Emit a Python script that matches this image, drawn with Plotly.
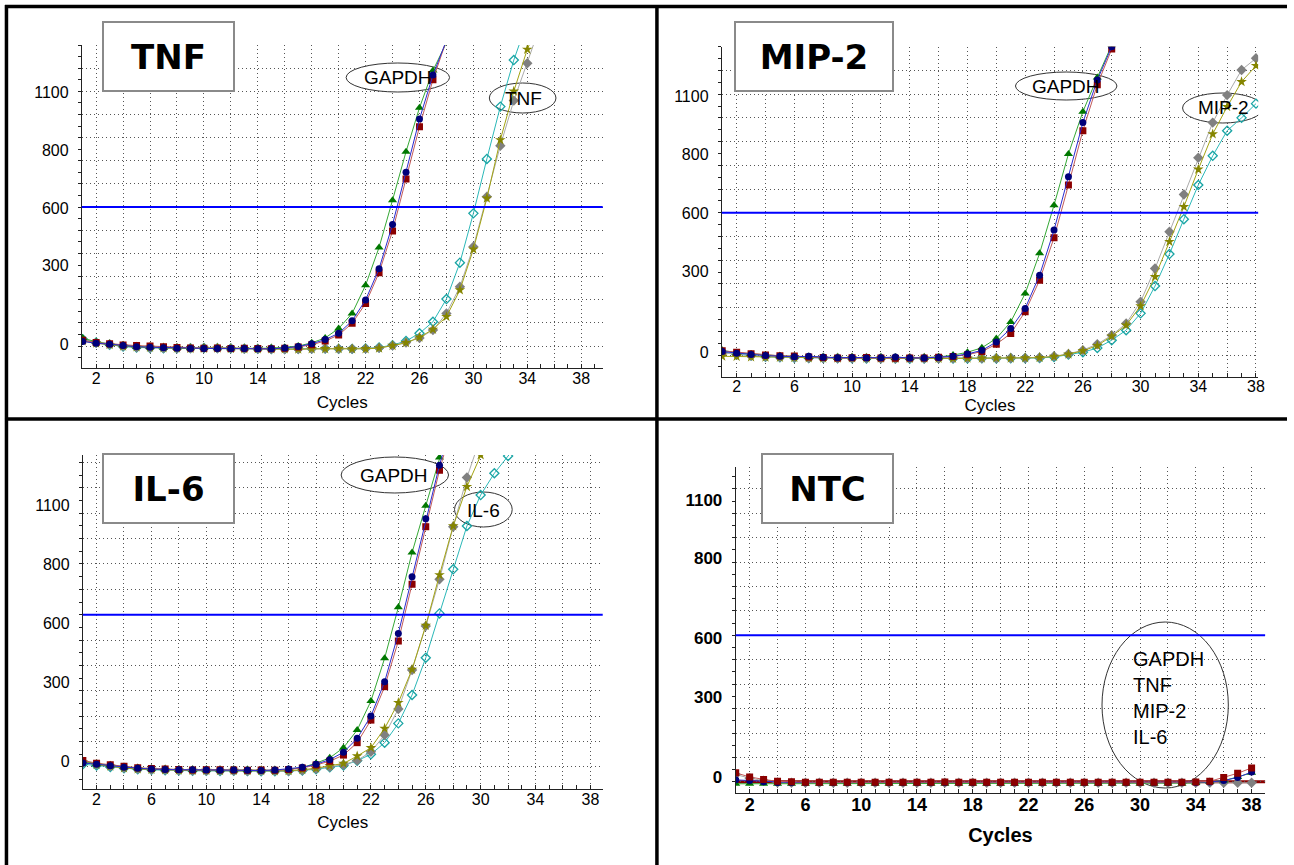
import plotly.graph_objects as go

W, H = 1294, 865

# ---------------- data ----------------
CYCLES = list(range(1, 40))
X_GRID_CYCLES = [2, 4, 6, 8, 10, 12, 14, 16, 18, 20, 22, 24, 26, 28, 30, 32, 34, 36, 38]
X_TICK_TEXT = ["2", "", "6", "", "10", "", "14", "", "18", "", "22", "", "26", "", "30", "", "34", "", "38"]
Y_TICK_TEXT = ["0", "300", "600", "800", "1100"]
THRESHOLD = 600

# TNF panel
TNF_GAPDH_GREEN = [35, 18, 10, 4, -2, -4, -6, -8, -9, -8, -9, -10, -11, -10, -9, -6, 0, 14, 35, 76, 141, 263, 426, 630, 839, 1029, 1190, 1310, 1420]
TNF_GAPDH_NAVY = [20, 12, 8, 2, -3, -5, -7, -9, -10, -10, -11, -10, -11, -12, -12, -8, -2, 10, 28, 55, 109, 199, 334, 525, 750, 980, 1170, 1320, 1440]
TNF_GAPDH_RED = [25, 15, 10, 5, 2, 0, -3, -6, -8, -9, -8, -10, -9, -11, -12, -9, -4, 6, 22, 48, 98, 184, 317, 497, 721, 947, 1150, 1320, 1440]
TNF_TARGET_CYAN = [30, 15, 6, -2, -6, -8, -10, -10, -9, -8, -9, -10, -11, -12, -13, -13, -12, -11, -11, -12, -12, -10, -6, 4, 22, 55, 105, 203, 360, 573, 808, 1034, 1235, 1400]
TNF_TARGET_GREY = [28, 14, 8, 0, -5, -7, -9, -10, -10, -9, -10, -10, -12, -12, -13, -14, -13, -12, -11, -12, -12, -11, -8, 2, 15, 35, 69, 141, 256, 429, 645, 865, 1060, 1221, 1390]
TNF_TARGET_OLIVE = [22, 12, 6, -1, -4, -6, -8, -9, -11, -10, -9, -11, -12, -13, -12, -13, -14, -12, -12, -11, -13, -12, -9, 2, 14, 38, 72, 127, 242, 418, 638, 890, 1100, 1281, 1420]
TNF_TICK_POS = [9, 347, 595, 847, 1094]

# MIP-2 panel
MIP_GAPDH_GREEN = [20, 10, 5, 0, -3, -5, -8, -10, -11, -10, -11, -12, -12, -12, -10, -8, 0, 12, 31, 70, 140, 260, 429, 632, 848, 1026, 1170, 1307, 1420]
MIP_GAPDH_NAVY = [15, 8, 3, -2, -5, -7, -5, -9, -11, -10, -12, -11, -8, -12, -12, -10, -5, 5, 20, 55, 112, 197, 337, 527, 752, 980, 1160, 1300, 1420]
MIP_GAPDH_RED = [18, 12, 6, 0, -3, -4, -8, -10, -12, -11, -10, -12, -13, -12, -12, -9, -6, 2, 15, 46, 91, 183, 316, 495, 717, 946, 1140, 1290, 1410]
MIP_TARGET_CYAN = [12, 4, -2, -7, -9, -11, -12, -12, -13, -13, -14, -13, -14, -15, -14, -13, -14, -14, -13, -14, -13, -13, -12, -8, 2, 12, 30, 63, 105, 176, 291, 426, 573, 717, 840, 946, 1000, 1060]
MIP_TARGET_GREY = [10, 2, -3, -6, -8, -10, -12, -12, -13, -12, -13, -14, -14, -13, -14, -14, -13, -12, -13, -13, -12, -12, -10, -5, 5, 21, 46, 84, 133, 225, 365, 520, 677, 832, 980, 1096, 1202, 1251]
MIP_TARGET_OLIVE = [-5, -6, -8, -9, -10, -11, -12, -13, -13, -12, -13, -13, -14, -14, -13, -14, -14, -13, -13, -12, -13, -12, -11, -6, 4, 18, 40, 80, 126, 207, 330, 478, 625, 783, 932, 1047, 1152, 1220]
MIP_TICK_POS = [10, 351, 597, 846, 1092]

# IL-6 panel
IL6_GAPDH_GREEN = [22, 12, 6, 0, -5, -8, -10, -12, -13, -12, -13, -14, -13, -14, -14, -10, -3, 14, 35, 75, 145, 259, 428, 629, 845, 1030, 1220, 1400]
IL6_GAPDH_NAVY = [15, 10, 4, -2, -6, -9, -11, -12, -12, -13, -14, -13, -14, -15, -13, -9, -2, 10, 28, 57, 112, 200, 335, 526, 750, 978, 1190, 1380]
IL6_GAPDH_RED = [25, 14, 8, 2, -4, -7, -9, -11, -13, -12, -12, -13, -14, -13, -14, -11, -5, 7, 22, 46, 95, 184, 316, 496, 720, 947, 1170, 1360]
IL6_TARGET_CYAN = [10, 5, -1, -6, -10, -12, -14, -15, -16, -16, -17, -16, -17, -18, -18, -17, -15, -10, -2, 5, 24, 49, 95, 171, 283, 430, 605, 779, 950, 1072, 1158, 1226, 1300]
IL6_TARGET_GREY = [20, 10, 3, -4, -8, -11, -12, -14, -15, -16, -15, -16, -17, -16, -16, -17, -14, -8, 0, 8, 25, 59, 125, 228, 382, 555, 740, 947, 1141, 1300]
IL6_TARGET_OLIVE = [18, 8, 2, -5, -9, -11, -13, -14, -15, -15, -16, -15, -16, -16, -17, -16, -12, -6, 4, 13, 42, 75, 151, 253, 384, 557, 757, 950, 1105, 1230, 1350]
IL6_TICK_POS = [20, 333, 566, 799, 1033]

# NTC panel
NTC_GREEN = [-8, -8, -8, -8, -8, -8, -8, -8, -8, -8, -8, -8, -8, -8, -8, -8, -8, -8, -8, -8, -8, -8, -8, -8, -8, -8, -8, -8, -8, -8, -8, -8, -8, -5, 0, 5, 20, 37]
NTC_NAVY = [8, 5, 0, -3, -3, -3, -3, -3, -3, -3, -3, -3, -3, -3, -3, -3, -3, -3, -3, -3, -3, -3, -3, -3, -3, -3, -3, -3, -3, -3, -3, -3, -3, -3, -1, 5, 18, 40]
NTC_GREY = [30, 15, 5, -3, -4, -4, -4, -4, -4, -4, -4, -4, -4, -4, -4, -4, -4, -4, -4, -4, -4, -4, -4, -4, -4, -4, -4, -4, -4, -4, -4, -4, -4, -4, -4, -4, -4, -4]
NTC_RED = [37, 20, 10, 2, 0, -2, -2, -2, -2, -2, -2, -2, -2, -2, -2, -1, -2, -2, -2, -2, -2, -2, -2, -2, -2, -2, -2, -2, -2, -2, -2, -2, -2, -1, 2, 18, 35, 57]
NTC_TICK_POS = [20, 346, 588, 916, 1154]
NTC_BASELINE = 0

# ---------------- styles ----------------
FONT = "Liberation Sans, Arial, sans-serif"
GRID = "#555555"
DOT = "1px,3px"
STYLE = {
    "cyan": dict(line="#2bb8b8", marker="#1aa5a5", symbol="diamond-open", size=7),
    "grey": dict(line="#aaaaaa", marker="#808080", symbol="diamond", size=8),
    "olive": dict(line="#a3a312", marker="#858500", symbol="star", size=8),
    "green": dict(line="#35a835", marker="#007800", symbol="triangle-up", size=8),
    "red": dict(line="#c25a5a", marker="#8b0000", symbol="square", size=7),
    "navy": dict(line="#2a2ad0", marker="#00007a", symbol="circle", size=7),
}

# pull the x tick labels a little closer to the axis when supported
try:
    go.layout.XAxis(ticklabelstandoff=-5)
    XSTAND = -5
except ValueError:
    XSTAND = 0

# panel geometry in pixels: left, right, top, bottom ; title standoff
PANELS = [
    dict(px=(82.3, 606, 45, 368.3), xr=[0.94, 39.6], yr=[-96, 1300], ticks=TNF_TICK_POS, bold=False, st=5,
         series=[("cyan", TNF_TARGET_CYAN), ("grey", TNF_TARGET_GREY), ("olive", TNF_TARGET_OLIVE),
                 ("green", TNF_GAPDH_GREEN), ("red", TNF_GAPDH_RED), ("navy", TNF_GAPDH_NAVY)]),
    dict(px=(725.7, 1265, 46.7, 376.7), xr=[0.97, 38.15], yr=[-91, 1300], ticks=MIP_TICK_POS, bold=False, st=0,
         series=[("cyan", MIP_TARGET_CYAN), ("grey", MIP_TARGET_GREY), ("olive", MIP_TARGET_OLIVE),
                 ("green", MIP_GAPDH_GREEN), ("red", MIP_GAPDH_RED), ("navy", MIP_GAPDH_NAVY)]),
    dict(px=(83.3, 606, 455, 789.3), xr=[1.0, 38.9], yr=[-89, 1230], ticks=IL6_TICK_POS, bold=False, st=4,
         series=[("cyan", IL6_TARGET_CYAN), ("grey", IL6_TARGET_GREY), ("olive", IL6_TARGET_OLIVE),
                 ("green", IL6_GAPDH_GREEN), ("red", IL6_GAPDH_RED), ("navy", IL6_GAPDH_NAVY)]),
    dict(px=(739.7, 1272, 466.7, 793.3), xr=[1.0, 38.97], yr=[-47, 1291], ticks=NTC_TICK_POS, bold=True, st=9,
         series=[("grey", NTC_GREY), ("green", NTC_GREEN), ("navy", NTC_NAVY), ("red", NTC_RED)]),
]

fig = go.Figure()
layout = {}
shapes = []
annotations = []

for i, p in enumerate(PANELS, 1):
    l, r, t, b = p["px"]
    sfx = "" if i == 1 else str(i)
    xref, yref = "x" + sfx, "y" + sfx
    gref = "y" + str(i + 4)
    xdom = [l / W, r / W]
    ydom = [1 - b / H, 1 - t / H]
    weight = "bold" if p["bold"] else "normal"
    tsize = 17 if p["bold"] else 16
    layout["xaxis" + sfx] = dict(
        domain=xdom, anchor=yref, range=p["xr"], tickmode="array",
        tickvals=X_GRID_CYCLES, ticktext=X_TICK_TEXT, ticks="inside", ticklen=4,
        tickcolor="#222", showline=True, linecolor="#222", linewidth=1,
        showgrid=True, gridcolor=GRID, griddash=DOT, gridwidth=1, zeroline=False,
        ticklabelstandoff=XSTAND,
        minor=dict(tickmode="linear", tick0=1, dtick=1, ticks="inside", ticklen=4,
                   tickcolor="#222", showgrid=False),
        tickfont=dict(family=FONT, size=tsize + (1 if p["bold"] else 0), color="black", weight=weight),
        title=dict(text="Cycles", standoff=p["st"] - XSTAND,
                   font=dict(family=FONT, size=20 if p["bold"] else 17, color="black", weight=weight)),
    )
    layout["yaxis" + sfx] = dict(
        domain=ydom, anchor=xref, range=p["yr"], tickmode="array",
        tickvals=p["ticks"], ticktext=Y_TICK_TEXT, ticks="", showgrid=False,
        zeroline=False, showline=True, linecolor="#222", linewidth=1,
        ticklabelstandoff=9,
        tickfont=dict(family=FONT, size=tsize, color="black", weight=weight),
    )
    layout["yaxis" + str(i + 4)] = dict(
        overlaying=yref, anchor=xref, side="left", range=p["yr"],
        tickmode="linear", tick0=0, dtick=100, showticklabels=False,
        ticks="outside", ticklen=3, tickcolor="#222", showgrid=True,
        gridcolor=GRID, griddash=DOT, gridwidth=1, zeroline=False, showline=False,
        minor=dict(tickmode="linear", tick0=0, dtick=50, ticks="outside", ticklen=3,
                   tickcolor="#222", showgrid=False),
    )
    # empty trace so the grid axis is drawn
    fig.add_trace(go.Scatter(x=[None], y=[None], xaxis=xref, yaxis=gref, mode="lines",
                             showlegend=False, hoverinfo="skip"))
    for key, vals in p["series"]:
        s = STYLE[key]
        mline = dict(width=1.3, color=s["marker"]) if "open" in s["symbol"] else dict(width=0)
        fig.add_trace(go.Scatter(
            x=CYCLES[:len(vals)], y=vals, mode="lines+markers", xaxis=xref, yaxis=yref,
            line=dict(color=s["line"], width=1),
            marker=dict(symbol=s["symbol"], size=s["size"], color=s["marker"], line=mline),
            showlegend=False, hoverinfo="skip",
        ))
    # threshold line
    shapes.append(dict(type="line", xref=xref + " domain", yref=yref, x0=0, x1=1,
                       y0=THRESHOLD, y1=THRESHOLD, line=dict(color="#0000ff", width=2), layer="above"))

# NTC thick baseline
shapes.append(dict(type="line", xref="x4 domain", yref="y4", x0=0, x1=1, y0=NTC_BASELINE, y1=NTC_BASELINE,
                   line=dict(color="#8b0000", width=3), layer="below"))


def to_data(i, px_x, px_y):
    p = PANELS[i - 1]
    l, r, t, b = p["px"]
    x = p["xr"][0] + (px_x - l) / (r - l) * (p["xr"][1] - p["xr"][0])
    y = p["yr"][0] + (b - px_y) / (b - t) * (p["yr"][1] - p["yr"][0])
    return x, y


# ellipses with labels
ELLIPSES = [
    (1, (348, 63, 452, 92), "GAPDH", (400, 78), True),
    (1, (492, 83, 559, 113), "TNF", (526, 98), True),
    (2, (1021, 72, 1123, 100), "GAPDH", (1072, 86), True),
    (2, (1189, 93, 1270, 123), "MIP-2", (1230, 108), True),
    (3, (343, 457, 451, 493), "GAPDH", (396, 475), True),
    (3, (457, 492, 515, 527), "IL-6", (486, 510), True),
    (4, (1108, 622, 1235, 788), None, None, False),
]
for i, box, text, c, filled in ELLIPSES:
    sfx = "" if i == 1 else str(i)
    x0, y0 = to_data(i, box[0], box[3])
    x1, y1 = to_data(i, box[2], box[1])
    shapes.append(dict(type="circle", xref="x" + sfx, yref="y" + sfx,
                       x0=x0, y0=y0, x1=x1, y1=y1, line=dict(color="#333333", width=1),
                       fillcolor="white" if filled else "rgba(0,0,0,0)", layer="between"))
    if text:
        annotations.append(dict(text=text, x=c[0] / W, y=1 - c[1] / H, xref="paper", yref="paper",
                                showarrow=False, xanchor="center", yanchor="middle",
                                font=dict(family=FONT, size=19, color="black")))

annotations.append(dict(text="GAPDH<br>TNF<br>MIP-2<br>IL-6", x=1137 / W, y=1 - 698 / H,
                        xref="paper", yref="paper", showarrow=False, xanchor="left", yanchor="middle",
                        align="left", font=dict(family=FONT, size=20, color="black")))

# gene title boxes
BOXES = [("TNF", 169.5, 56.5, 133, 71), ("MIP-2", 818, 56.5, 160, 71),
         ("IL-6", 169.5, 488.5, 133, 71), ("NTC", 831.7, 488.8, 133, 71)]
for text, cx, cy, bw, bh in BOXES:
    annotations.append(dict(text="<b>%s</b>" % text, x=cx / W, y=1 - cy / H, xref="paper", yref="paper",
                            showarrow=False, xanchor="center", yanchor="middle", width=bw - 4, height=bh - 4,
                            bgcolor="white", bordercolor="#8a8a8a", borderwidth=2, borderpad=0,
                            font=dict(family="DejaVu Sans, Arial Black, sans-serif", size=34, color="black")))

# frame lines
FRAME = dict(color="black", width=3.5)
shapes += [
    dict(type="line", xref="paper", yref="paper", x0=5 / W, x1=1, y0=1 - 6.5 / H, y1=1 - 6.5 / H, line=FRAME),
    dict(type="line", xref="paper", yref="paper", x0=6.5 / W, x1=6.5 / W, y0=0, y1=1 - 5 / H, line=FRAME),
    dict(type="line", xref="paper", yref="paper", x0=660.5 / W, x1=660.5 / W, y0=0, y1=1 - 5 / H, line=FRAME),
    dict(type="line", xref="paper", yref="paper", x0=5 / W, x1=1, y0=1 - 419 / H, y1=1 - 419 / H, line=FRAME),
]

fig.update_layout(**layout)
fig.update_layout(width=W, height=H, margin=dict(l=0, r=0, t=0, b=0), autosize=False,
                  paper_bgcolor="white", plot_bgcolor="white", shapes=shapes, annotations=annotations,
                  showlegend=False)

fig.write_html("out.html", config={"displayModeBar": False},
               post_script="document.body.style.margin='0';document.body.style.overflow='hidden';")
